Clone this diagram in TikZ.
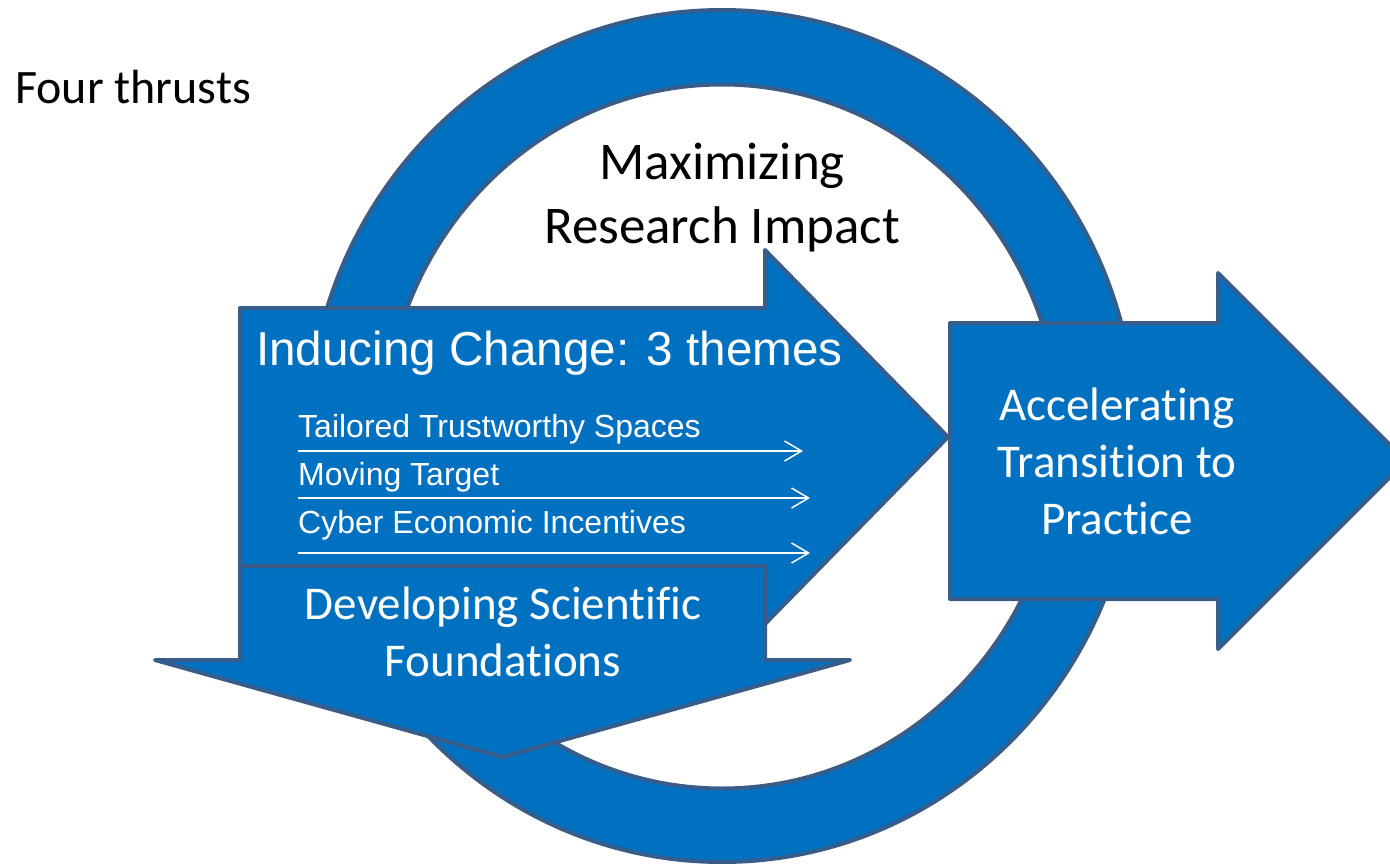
\documentclass[tikz,border=0pt]{standalone}
\usepackage{fontspec}
\setmainfont{Carlito}[RawFeature={-liga;-clig;-dlig;-calt}]
\newfontfamily\arialfont{Liberation Sans}
\usepackage{tikz}
\usetikzlibrary{shapes,arrows.meta,positioning}
\definecolor{thrustblue}{RGB}{0,112,192}
\definecolor{thrustedge}{RGB}{56,93,138}

\begin{document}
\begin{tikzpicture}[x=1pt, y=-1pt]
    % Estilos
    \tikzstyle{thrust} = [fill=thrustblue, draw=thrustedge, line width=4pt, line join=round]
    \tikzstyle{thrusttext} = [text=white, align=center, inner sep=0pt, font=\fontsize{47}{57}\selectfont]
    \tikzstyle{themetext} = [text=white, anchor=base west, inner sep=0pt, font=\arialfont\fontsize{32}{38}\selectfont]
    \tikzstyle{themearrow} = [draw=white, line width=1.5pt, -{Straight Barb[length=17pt, width=20pt]}]

    \useasboundingbox (0,0) rectangle (1390,864);
    \clip (0,0) rectangle (1390,864);

    % Anel
    \path [thrust, even odd rule] (722,436) ellipse [x radius=414, y radius=426]
                                  (722,436.5) ellipse [x radius=338, y radius=352];

    % Setas
    \path [thrust] (240,308) -- (765,308) -- (765,250) -- (948,437) -- (765,624)
                   -- (765,566) -- (240,566) -- cycle;
    \path [thrust] (240,566) -- (765,566) -- (765,660) -- (850,660) -- (502.5,757)
                   -- (155,660) -- (240,660) -- cycle;
    \path [thrust] (950,323) -- (1218,323) -- (1218,273) -- (1406,461) -- (1218,649)
                   -- (1218,599) -- (950,599) -- cycle;

    % Nós
    \node [anchor=base west, inner sep=0pt, font=\fontsize{48}{57}\selectfont] (thrusts) at (15,104) {Four thrusts};
    \node [align=center, inner sep=0pt, font=\fontsize{53}{64}\selectfont] (impact) at (722,198) {Maximizing\\Research Impact};
    \node [text=white, anchor=base west, inner sep=0pt, font=\arialfont\fontsize{47.6}{58}\selectfont] (change) at (256,365) {Inducing Change: 3 themes};
    \node [themetext] (spaces) at (298,437) {Tailored Trustworthy Spaces};
    \node [themetext] (target) at (298,485) {Moving Target};
    \node [themetext] (incentives) at (298,533) {Cyber Economic Incentives};
    \node [thrusttext] (transition) at (1117,461) {Accelerating\\Transition to\\Practice};
    \node [thrusttext] (foundations) at (503,632) {Developing Scientific\\Foundations};

    % Conexões
    \coordinate (spacesL) at (298,451);   \coordinate (spacesR) at (803,451);
    \coordinate (targetL) at (298,498);   \coordinate (targetR) at (810,498);
    \coordinate (incentL) at (298,553);   \coordinate (incentR) at (810,553);
    \path [themearrow] (spacesL) -- (spacesR);
    \path [themearrow] (targetL) -- (targetR);
    \path [themearrow] (incentL) -- (incentR);
\end{tikzpicture}
\end{document}
